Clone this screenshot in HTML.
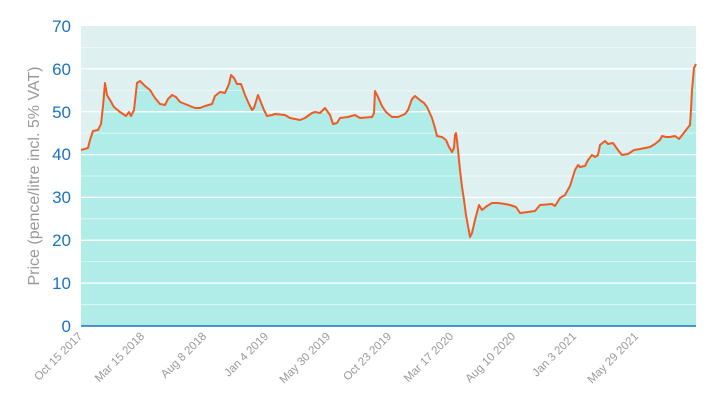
<!DOCTYPE html>
<html><head><meta charset="utf-8"><style>
html,body{margin:0;padding:0;background:#fff;}
svg{display:block;font-family:"Liberation Sans",Arial,sans-serif;}
</style></head><body>
<svg width="711" height="403" viewBox="0 0 711 403" xmlns="http://www.w3.org/2000/svg">
<rect x="81" y="26" width="615" height="300" fill="#def1f0"/>
<polygon fill="#b1ede8" points="81,326 81,150 88,148 90,140 93,131 98,130 101,124 103,106 105,83 107,95 110,100 114,107 120,112 126,116 129,112 131,116 134,110 137,83 140,81 145,86 150,90 155,98 160,104 165,105 168,99 172,95 176,97 180,102 185,104 190,106 195,108 200,108 205,106 212,104 215,96 220,92 225,93 229,84 231,75 234,78 237,84 241,84 245,95 249,104 252,110 254,108 258,95 260,100 264,110 267,116 272,115 275,114 285,115 290,118 300,120 305,118 312,113 315,112 320,113 325,108 330,115 333,124 337,123 340,118 348,117 355,115 360,118 372,117 374,113 375,91 378,97 382,106 386,112 392,117 398,117 405,114 408,110 412,99 415,96 421,101 424,103 427,107 432,118 435,128 437,136 442,137 446,140 449,147 452,152 454,148 455,135 456,133 457,140 460,170 462,187 464,200 466,215 470,237 472,233 475,220 479,205 482,210 487,206 492,203 498,203 505,204 510,205 516,207 520,213 528,212 535,211 540,205 552,204 555,206 560,198 565,195 570,186 575,170 578,165 580,167 585,166 588,160 592,155 595,157 598,155 600,145 605,141 608,144 613,143 618,150 622,155 628,154 634,150 640,149 645,148 650,147 655,144 660,140 662,136 666,137 670,137 675,136 679,139 683,134 686,130 690,125 691,110 692,90 694,68 696,64 696,326"/>
<g stroke="#ffffff" stroke-width="0.7" opacity="0.7">
<line x1="81" x2="696" y1="304.6" y2="304.6"/><line x1="81" x2="696" y1="261.7" y2="261.7"/>
<line x1="81" x2="696" y1="218.9" y2="218.9"/><line x1="81" x2="696" y1="176" y2="176"/>
<line x1="81" x2="696" y1="133.1" y2="133.1"/><line x1="81" x2="696" y1="90.3" y2="90.3"/>
<line x1="81" x2="696" y1="47.4" y2="47.4"/>
</g>
<g stroke="#ffffff" stroke-width="1.3">
<line x1="81" x2="696" y1="283.1" y2="283.1"/><line x1="81" x2="696" y1="240.3" y2="240.3"/>
<line x1="81" x2="696" y1="197.4" y2="197.4"/><line x1="81" x2="696" y1="154.6" y2="154.6"/>
<line x1="81" x2="696" y1="111.7" y2="111.7"/><line x1="81" x2="696" y1="68.9" y2="68.9"/>
</g>
<polyline fill="none" stroke="#f05a24" stroke-width="2" stroke-linejoin="round" points="81,150 88,148 90,140 93,131 98,130 101,124 103,106 105,83 107,95 110,100 114,107 120,112 126,116 129,112 131,116 134,110 137,83 140,81 145,86 150,90 155,98 160,104 165,105 168,99 172,95 176,97 180,102 185,104 190,106 195,108 200,108 205,106 212,104 215,96 220,92 225,93 229,84 231,75 234,78 237,84 241,84 245,95 249,104 252,110 254,108 258,95 260,100 264,110 267,116 272,115 275,114 285,115 290,118 300,120 305,118 312,113 315,112 320,113 325,108 330,115 333,124 337,123 340,118 348,117 355,115 360,118 372,117 374,113 375,91 378,97 382,106 386,112 392,117 398,117 405,114 408,110 412,99 415,96 421,101 424,103 427,107 432,118 435,128 437,136 442,137 446,140 449,147 452,152 454,148 455,135 456,133 457,140 460,170 462,187 464,200 466,215 470,237 472,233 475,220 479,205 482,210 487,206 492,203 498,203 505,204 510,205 516,207 520,213 528,212 535,211 540,205 552,204 555,206 560,198 565,195 570,186 575,170 578,165 580,167 585,166 588,160 592,155 595,157 598,155 600,145 605,141 608,144 613,143 618,150 622,155 628,154 634,150 640,149 645,148 650,147 655,144 660,140 662,136 666,137 670,137 675,136 679,139 683,134 686,130 690,125 691,110 692,90 694,68 696,64"/>
<line x1="81" x2="696" y1="326" y2="326" stroke="#1a73c0" stroke-width="1.5"/>
<g fill="#1a73c0" font-size="17" text-anchor="end">
<text x="71" y="332">0</text><text x="71" y="289">10</text><text x="71" y="246">20</text>
<text x="71" y="203">30</text><text x="71" y="160">40</text><text x="71" y="118">50</text>
<text x="71" y="75">60</text><text x="71" y="32">70</text>
</g>
<text transform="translate(39,176) rotate(-90)" text-anchor="middle" font-size="16" fill="#999">Price (pence/litre incl. 5% VAT)</text>
<g fill="#999" font-size="11.5" text-anchor="end">
<text transform="translate(83,337) rotate(-45)">Oct 15 2017</text>
<text transform="translate(145,337) rotate(-45)">Mar 15 2018</text>
<text transform="translate(207,337) rotate(-45)">Aug 8 2018</text>
<text transform="translate(269,337) rotate(-45)">Jan 4 2019</text>
<text transform="translate(331,337) rotate(-45)">May 30 2019</text>
<text transform="translate(392,337) rotate(-45)">Oct 23 2019</text>
<text transform="translate(454,337) rotate(-45)">Mar 17 2020</text>
<text transform="translate(516,337) rotate(-45)">Aug 10 2020</text>
<text transform="translate(577,337) rotate(-45)">Jan 3 2021</text>
<text transform="translate(639,337) rotate(-45)">May 29 2021</text>
</g>
</svg>
</body></html>
